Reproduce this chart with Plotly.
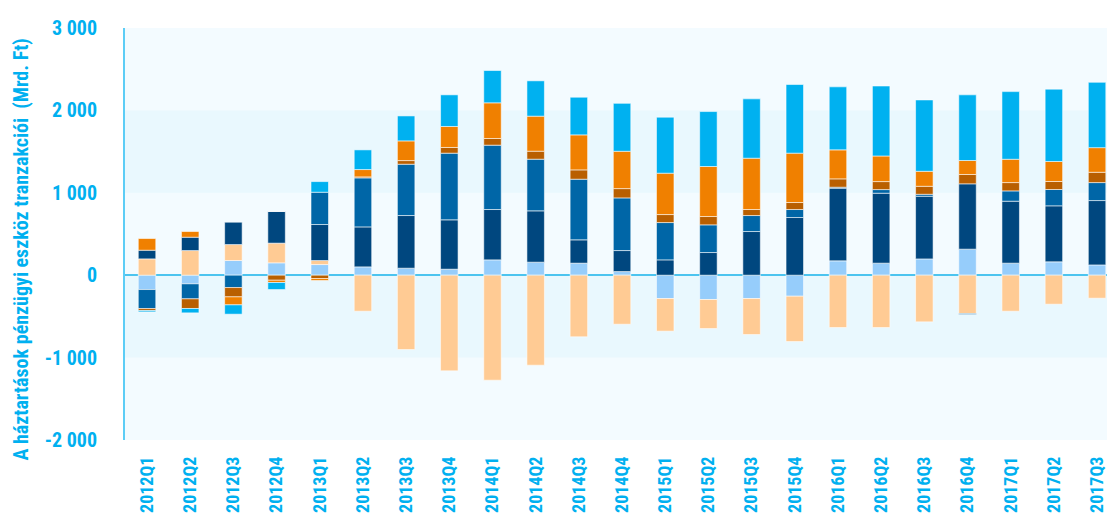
import plotly.graph_objects as go

# Quarterly household financial asset transactions (billion HUF)
quarters = [
    "2012Q1", "2012Q2", "2012Q3", "2012Q4",
    "2013Q1", "2013Q2", "2013Q3", "2013Q4",
    "2014Q1", "2014Q2", "2014Q3", "2014Q4",
    "2015Q1", "2015Q2", "2015Q3", "2015Q4",
    "2016Q1", "2016Q2", "2016Q3", "2016Q4",
    "2017Q1", "2017Q2", "2017Q3",
]

light_blue = [-174, -105, 178, 150, 129, 101, 85, 73, 186, 158, 146, 44,
              -283, -295, -283, -255, 174, 146, 198, 316, 146, 162, 125]
peach = [198, 299, 194, 239, 49, -437, -902, -1161, -1274, -1092, -748, -595,
         -396, -352, -437, -550, -635, -635, -566, -465, -437, -352, -279]
navy = [105, 162, 271, 384, 437, 485, 639, 599, 611, 623, 283, 255,
        186, 275, 530, 700, 882, 849, 760, 793, 752, 680, 781]
mid_blue = [-231, -182, -150, 0, 392, 595, 623, 809, 781, 627, 736, 639,
            453, 336, 194, 97, 12, 44, 24, -12, 125, 198, 218]
brown = [-24, -117, -113, -61, -40, 12, 44, 69, 81, 97, 113, 113,
         97, 101, 73, 85, 101, 97, 97, 113, 101, 97, 125]
orange = [142, 69, -97, -28, -24, 89, 239, 255, 433, 425, 425, 453,
          502, 607, 623, 599, 352, 311, 182, 170, 283, 243, 299]
cyan = [-16, -53, -113, -85, 129, 239, 303, 384, 392, 429, 457, 582,
        680, 667, 720, 833, 765, 849, 866, 797, 821, 878, 793]

series = [
    (light_blue, "#96cdfb"),
    (peach, "#ffcb94"),
    (navy, "#00477f"),
    (mid_blue, "#0066a7"),
    (brown, "#b95f00"),
    (orange, "#f08000"),
    (cyan, "#00b1f0"),
]

y_ticks = [-2000, -1000, 0, 1000, 2000, 3000]
y_tick_text = ["-2 000", "-1 000", "0", "1 000", "2 000", "3 000"]

FONT = "Roboto Condensed, Liberation Sans Narrow, DejaVu Sans Condensed, Arial Narrow, sans-serif"
TEXT_BLUE = "#00b0f0"

fig = go.Figure()
for values, color in series:
    fig.add_trace(go.Bar(
        x=quarters, y=values,
        marker=dict(color=color, line=dict(color="rgba(255,255,255,0.55)", width=1)),
        showlegend=False,
    ))

# alternating horizontal bands in the plot background
bands = [(1000, 2000), (-1000, 0)]
shapes = [
    dict(type="rect", xref="paper", yref="y", x0=0, x1=1, y0=lo, y1=hi,
         fillcolor="#e9f8fe", line=dict(width=0), layer="below")
    for lo, hi in bands
]

fig.update_layout(
    width=1107, height=516,
    barmode="relative",
    bargap=0.595,
    paper_bgcolor="white",
    plot_bgcolor="#f3fbff",
    margin=dict(l=125, r=0, t=28, b=76),
    shapes=shapes,
    xaxis=dict(
        type="category",
        range=[-0.51, 22.23],
        tickangle=-90,
        tickfont=dict(family=FONT, size=18, color=TEXT_BLUE, weight="bold"),
        ticklabelstandoff=12,
        showgrid=False, showline=False, zeroline=False,
        fixedrange=True,
    ),
    yaxis=dict(
        range=[-2000, 3000],
        tickvals=y_ticks, ticktext=y_tick_text,
        tickfont=dict(family=FONT, size=20, color=TEXT_BLUE, weight="bold"),
        ticklabelstandoff=22,
        showgrid=False,
        showline=True, linecolor="#5ccdf6", linewidth=2,
        zeroline=True, zerolinecolor="#4cc4ef", zerolinewidth=2,
    ),
    annotations=[dict(
        text="A háztartások pénzügyi eszköz tranzakciói  (Mrd. Ft)",
        xref="paper", yref="paper", x=-0.106, y=0.462,
        xanchor="center", yanchor="middle", textangle=-90, showarrow=False,
        font=dict(family=FONT, size=20, color=TEXT_BLUE, weight="bold"),
    )],
)

fig.write_html("out.html")
